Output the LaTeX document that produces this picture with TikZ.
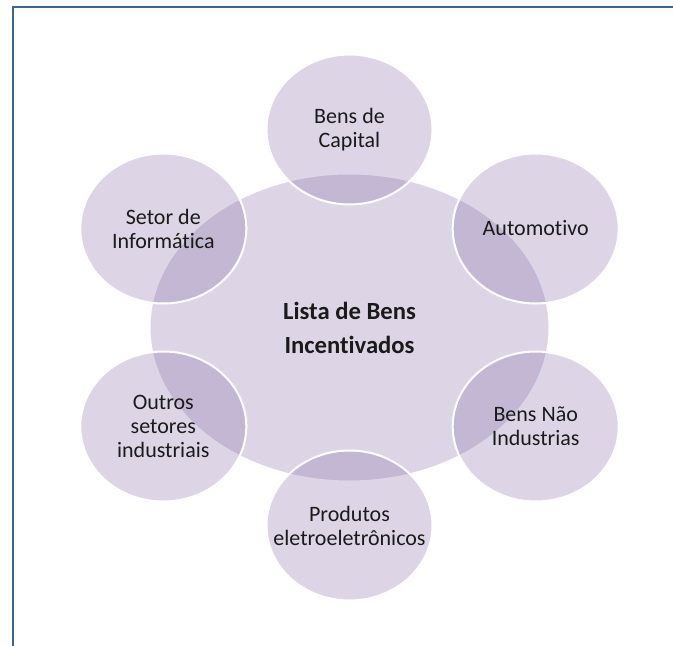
\documentclass[tikz,border=0pt]{standalone}
\usepackage{fontspec}
\setmainfont{Carlito}[Ligatures=NoCommon]
\usepackage{xcolor}
\definecolor{cHub}{HTML}{8064A2}
\definecolor{cFrame}{HTML}{3E6496}
\definecolor{cText}{HTML}{1A1A1A}
\usepackage{tikz}
\usetikzlibrary{positioning,shapes.geometric,calc}
\tikzset{
  node-hub/.style={ellipse,draw=white,line width=1.5pt,fill=cHub,fill opacity=0.27,
    minimum width=300pt,minimum height=231pt,inner sep=0pt},
  node-spoke/.style={ellipse,draw=white,line width=1.5pt,fill=cHub,fill opacity=0.27,
    minimum width=124.5pt,minimum height=112.5pt,inner sep=0pt},
  node-label/.style={align=center,text=cText,inner sep=0pt,
    font=\fontsize{16.5}{18}\selectfont},
  node-title/.style={align=center,text=cText,inner sep=0pt,
    font=\bfseries\fontsize{18.5}{25.5}\selectfont},
  frame-line/.style={draw=cFrame,line width=1.5pt},
}

\begin{document}
\begin{tikzpicture}[x=0.75pt,y=-0.75pt]
  \useasboundingbox (0,0) rectangle (673,645);
  \clip (0,0) rectangle (673,645);
  \draw[frame-line] (680,7) -- (12.5,7) -- (12.5,650);
  \node[node-hub] at (349.5,327.5) (hub) {};
  \node[node-title] at (hub) (hub-txt) {Lista de Bens\\Incentivados};
  \foreach \name/\ang/\txt in {capital/90/{Bens de\\Capital},
      auto/30/{Automotivo}, naoind/-30/{Bens Não\\Industrias},
      eletro/-90/{Produtos\\eletroeletrônicos},
      outros/-150/{Outros\\setores\\industriais},
      info/150/{Setor de\\Informática}} {
    \node[node-spoke] at ($(hub)+({215*cos(\ang)},{-198*sin(\ang)})$) (\name) {};
    \node[node-label] at (\name) (\name-txt) {\txt};
  }
\end{tikzpicture}
\end{document}
